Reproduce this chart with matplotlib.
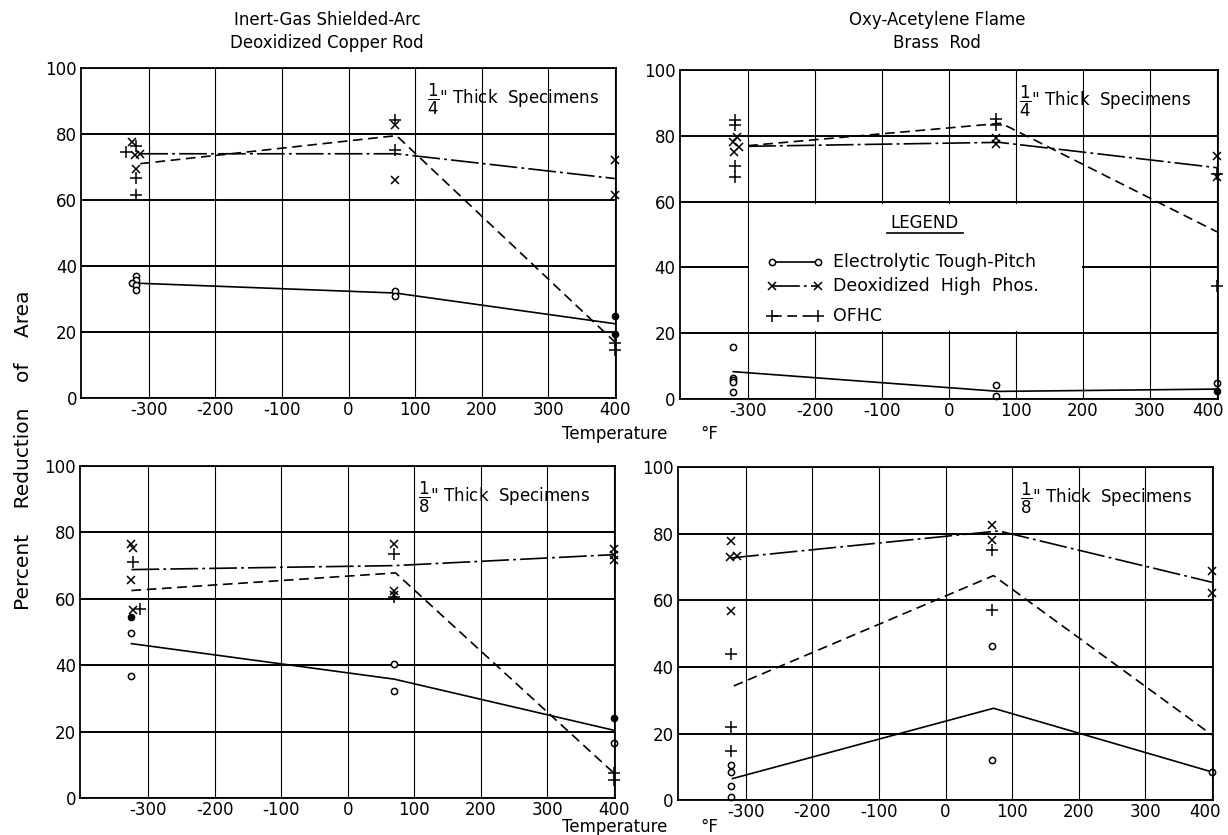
import matplotlib.pyplot as plt
from matplotlib.patches import Rectangle
from matplotlib.transforms import ScaledTranslation

plt.switch_backend("Agg")  # no display in the sandbox

plt.rcParams["font.family"] = ["DejaVu Sans"]
plt.rcParams["axes.unicode_minus"] = False  # labels use a plain hyphen
plt.rcParams["lines.scale_dashes"] = False

# Axis ticks (temperature in deg F, percent reduction of area)
temp_ticks = [-300, -200, -100, 0, 100, 200, 300, 400]
ra_ticks = [0, 20, 40, 60, 80, 100]

# ---- Upper left: inert-gas shielded-arc, deoxidized copper rod, 1/4" ----
ul_etp_x = [-320, -320, -326, -320, -320, 70, 70]
ul_etp_y = [37, 35.8, 34.8, 34.2, 32.8, 32.4, 30.9]
ul_fill_x = [400, 400]
ul_fill_y = [24.8, 19.5]
ul_dhp_x = [-325, -321, -314, -320, 70, 70, 400, 400]
ul_dhp_y = [77.6, 73.6, 73.8, 69.4, 82.6, 65.9, 72, 61.5]
ul_ofhc_x = [-320, -334, -320, -320, 70, 70, 400, 400]
ul_ofhc_y = [76.5, 74.6, 66.6, 61.4, 84.3, 75.2, 16.8, 14.5]
ul_etp_line_x = [-320, 70, 400]
ul_etp_line_y = [34.8, 31.8, 22.5]
ul_dhp_line_x = [-313, 72, 400]
ul_dhp_line_y = [74, 74, 66.5]
ul_ofhc_line_x = [-313, 72, 400]
ul_ofhc_line_y = [71, 79.5, 17]

# ---- Upper right: oxy-acetylene flame, brass rod, 1/4" ----
ur_etp_x = [-322, -322, -322, -322, -322, 70, 70, 400]
ur_etp_y = [15.9, 6.3, 5.7, 5.1, 2, 4.2, 0.8, 5]
ur_fill_x = [400]
ur_fill_y = [2.4]
ur_dhp_x = [-316, -322, -313, -321, 70, 70, 400, 400]
ur_dhp_y = [79.5, 78, 76.7, 75.2, 79.4, 77.6, 73.9, 67.4]
ur_ofhc_x = [-320, -320, -320, -320, 70, 70, 400, 400]
ur_ofhc_y = [84.8, 83.3, 70.9, 67.4, 85, 83.4, 68.4, 34.3]
ur_etp_line_x = [-322, 75, 400]
ur_etp_line_y = [8.3, 2.3, 3]
ur_dhp_line_x = [-300, 75, 400]
ur_dhp_line_y = [76.8, 78, 70.3]
ur_ofhc_line_x = [-300, 78, 400]
ur_ofhc_line_y = [77, 83.8, 50.8]

# ---- Lower left: inert-gas shielded-arc, deoxidized copper rod, 1/8" ----
ll_etp_x = [-325, -325, 70, 70, 400]
ll_etp_y = [49.7, 36.7, 40.4, 32.2, 16.6]
ll_fill_x = [-325, 400]
ll_fill_y = [54.5, 24.2]
ll_dhp_x = [-325, -322, -325, -322, 70, 70, 70, 400, 400, 400]
ll_dhp_y = [76.6, 75.3, 65.7, 56.6, 76.6, 62.4, 61.2, 75, 73.3, 71.7]
ll_ofhc_x = [-322, -312, 70, 70, 400, 400]
ll_ofhc_y = [71, 56.8, 73.5, 60.5, 7.6, 5.3]
ll_etp_line_x = [-325, 70, 400]
ll_etp_line_y = [46.5, 35.8, 20.4]
ll_dhp_line_x = [-325, 70, 400]
ll_dhp_line_y = [68.8, 70, 73.3]
ll_ofhc_line_x = [-325, 72, 400]
ll_ofhc_line_y = [62.5, 67.8, 7.5]

# ---- Lower right: oxy-acetylene flame, brass rod, 1/8" ----
lr_etp_x = [-322, -322, -322, -322, 70, 70, 400]
lr_etp_y = [10.7, 8.4, 4.2, 0.9, 46.3, 12.2, 8.4]
lr_fill_x = []
lr_fill_y = []
lr_dhp_x = [-322, -324, -313, -322, 70, 70, 400, 400]
lr_dhp_y = [77.8, 73, 73.3, 56.9, 82.7, 78.1, 68.9, 62.1]
lr_ofhc_x = [-322, -322, -322, 70, 70]
lr_ofhc_y = [43.8, 22, 14.9, 75.1, 57.1]
lr_etp_line_x = [-320, 72, 400]
lr_etp_line_y = [6.5, 27.6, 8.5]
lr_dhp_line_x = [-322, 80, 400]
lr_dhp_line_y = [72.7, 80.8, 65.4]
lr_ofhc_line_x = [-318, 72, 400]
lr_ofhc_line_y = [34.3, 67.4, 19.6]

# Legend text
legend_labels = ["Electrolytic Tough-Pitch", "Deoxidized  High  Phos.", "OFHC"]

# Line styles for the three coppers
ETP_STYLE = dict(color="black", lw=1.2, linestyle="-")
DHP_STYLE = dict(color="black", lw=1.2, dashes=(20, 3, 2, 3))
OFHC_STYLE = dict(color="black", lw=1.2, dashes=(7, 4))


def draw_panel(ax, etp, fill, dhp, ofhc, lines, note):
    """Draw one of the four panels: grid, scatter points and fitted lines."""
    ax.set_xlim(-402, 402)
    ax.set_ylim(0, 100)
    ax.set_xticks(temp_ticks)
    ax.set_yticks(ra_ticks)
    ax.set_axisbelow(True)
    ax.xaxis.grid(True, color="black", lw=0.8)
    ax.yaxis.grid(True, color="black", lw=1.4)
    ax.tick_params(length=0, labelsize=12)
    ax.tick_params(axis="x", pad=2)
    ax.tick_params(axis="y", pad=3)
    for spine in ax.spines.values():
        spine.set_linewidth(1.3)

    # fitted lines
    etp_line, dhp_line, ofhc_line = lines
    ax.plot(*etp_line, **ETP_STYLE)
    ax.plot(*dhp_line, **DHP_STYLE)
    ax.plot(*ofhc_line, **OFHC_STYLE)

    # individual test points
    ax.plot(*etp, linestyle="none", marker="o", ms=4.5, mfc="white",
            mec="black", mew=1.1, clip_on=False)
    ax.plot(*fill, linestyle="none", marker="o", ms=4.5, mfc="black",
            mec="black", clip_on=False)
    ax.plot(*dhp, linestyle="none", marker="x", ms=6, mec="black",
            mew=1.1, clip_on=False)
    ax.plot(*ofhc, linestyle="none", marker="+", ms=8, mec="black",
            mew=1.1, clip_on=False)

    # thickness note
    ax.text(note[0], 90.5, note[1], fontsize=12, ha="left", va="center")


def shift_last_xlabel(ax, px):
    """Nudge the 400 label left so it stays inside the sheet."""
    fig.canvas.draw()
    label = ax.get_xticklabels()[-1]
    label.set_transform(label.get_transform()
                        + ScaledTranslation(px / 100, 0, fig.dpi_scale_trans))


def draw_legend(ax):
    """Legend drawn inside the upper right panel, like the original sheet."""
    # blank out the grid behind the legend
    ax.add_patch(Rectangle((-298, 20.7), 496, 38.6, facecolor="white",
                           edgecolor="none", zorder=1))
    ax.text(0.455, 0.535, "LEGEND", transform=ax.transAxes, fontsize=12,
            ha="center", va="center")
    ax.plot([0.385, 0.526], [0.505, 0.505], color="black", lw=1.2,
            transform=ax.transAxes)

    styles = [
        (ETP_STYLE, "o", 4.5),
        (DHP_STYLE, "x", 6),
        (OFHC_STYLE, "+", 8),
    ]
    rows = [0.416, 0.343, 0.252]
    for (style, marker, ms), label, y in zip(styles, legend_labels, rows):
        ax.plot([0.172, 0.256], [y, y], transform=ax.transAxes, marker=marker,
                ms=ms, mfc="white", mec="black", mew=1.1, **style)
        ax.text(0.284, y, label, transform=ax.transAxes, fontsize=12.5,
                ha="left", va="center")


fig = plt.figure(figsize=(12.28, 8.35), dpi=100)

ax_ul = fig.add_axes([0.066, 0.5234, 0.4357, 0.3952])
ax_ur = fig.add_axes([0.5535, 0.5222, 0.4386, 0.394])
ax_ll = fig.add_axes([0.0653, 0.0443, 0.4357, 0.3976])
ax_lr = fig.add_axes([0.552, 0.0416, 0.436, 0.3992])

quarter = r'$\dfrac{1}{4}$" Thick  Specimens'
eighth = r'$\dfrac{1}{8}$" Thick  Specimens'

draw_panel(
    ax_ul,
    (ul_etp_x, ul_etp_y), (ul_fill_x, ul_fill_y),
    (ul_dhp_x, ul_dhp_y), (ul_ofhc_x, ul_ofhc_y),
    [(ul_etp_line_x, ul_etp_line_y), (ul_dhp_line_x, ul_dhp_line_y),
     (ul_ofhc_line_x, ul_ofhc_line_y)],
    (118, quarter),
)
draw_panel(
    ax_ur,
    (ur_etp_x, ur_etp_y), (ur_fill_x, ur_fill_y),
    (ur_dhp_x, ur_dhp_y), (ur_ofhc_x, ur_ofhc_y),
    [(ur_etp_line_x, ur_etp_line_y), (ur_dhp_line_x, ur_dhp_line_y),
     (ur_ofhc_line_x, ur_ofhc_line_y)],
    (104, quarter),
)
draw_panel(
    ax_ll,
    (ll_etp_x, ll_etp_y), (ll_fill_x, ll_fill_y),
    (ll_dhp_x, ll_dhp_y), (ll_ofhc_x, ll_ofhc_y),
    [(ll_etp_line_x, ll_etp_line_y), (ll_dhp_line_x, ll_dhp_line_y),
     (ll_ofhc_line_x, ll_ofhc_line_y)],
    (106, eighth),
)
draw_panel(
    ax_lr,
    (lr_etp_x, lr_etp_y), (lr_fill_x, lr_fill_y),
    (lr_dhp_x, lr_dhp_y), (lr_ofhc_x, lr_ofhc_y),
    [(lr_etp_line_x, lr_etp_line_y), (lr_dhp_line_x, lr_dhp_line_y),
     (lr_ofhc_line_x, lr_ofhc_line_y)],
    (112, eighth),
)
draw_legend(ax_ur)
shift_last_xlabel(ax_ur, -9)
shift_last_xlabel(ax_lr, -7)

# Column titles
fig.text(327 / 1228, 1 - 20 / 835, "Inert-Gas Shielded-Arc", fontsize=12,
         ha="center", va="center")
fig.text(327 / 1228, 1 - 43 / 835, "Deoxidized Copper Rod", fontsize=12,
         ha="center", va="center")
fig.text(937 / 1228, 1 - 20 / 835, "Oxy-Acetylene Flame", fontsize=12,
         ha="center", va="center")
fig.text(937 / 1228, 1 - 43 / 835, "Brass  Rod", fontsize=12,
         ha="center", va="center")

# Shared axis labels
fig.text(24 / 1228, 1 - 450 / 835, "Percent    Reduction    of    Area",
         fontsize=14.5, rotation=90, ha="center", va="center")
for y_px in (434, 827):
    fig.text(562 / 1228, 1 - y_px / 835, "Temperature", fontsize=12,
             ha="left", va="center")
    fig.text(700 / 1228, 1 - y_px / 835, "°F", fontsize=12,
             ha="left", va="center")

fig.savefig("out.png", dpi=100)
